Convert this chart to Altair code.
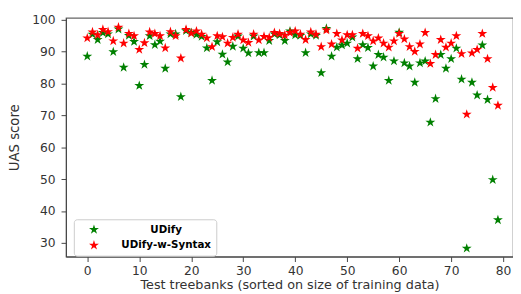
import altair as alt
import pandas as pd

idx = list(range(80))
udify = [88.5, 95.4, 93.7, 95.9, 95.5, 89.9, 97.0, 85.0, 95.0, 93.1,
         79.3, 85.9, 94.9, 92.1, 93.2, 84.7, 95.5, 95.5, 75.8, 96.5,
         95.9, 95.3, 94.7, 91.1, 80.9, 93.0, 89.1, 86.7, 91.6, 94.8,
         91.0, 89.5, 94.8, 89.6, 89.6, 93.4, 95.5, 95.2, 93.4, 96.4,
         95.2, 95.0, 89.6, 95.5, 95.0, 83.3, 97.2, 88.5, 91.3, 92.0,
         92.6, 94.5, 87.7, 92.1, 91.2, 85.4, 89.0, 88.2, 80.9, 87.0,
         96.0, 86.4, 85.4, 80.3, 86.4, 87.0, 67.8, 75.2, 89.0, 84.7,
         87.7, 91.0, 81.3, 28.3, 80.3, 76.3, 92.0, 74.9, 49.8, 37.2]
syntax = [94.2, 96.1, 95.2, 96.9, 96.2, 93.3, 97.6, 92.6, 95.6, 94.9,
          90.6, 92.7, 96.1, 95.6, 94.9, 91.1, 96.2, 94.9, 87.9, 96.9,
          95.7, 96.4, 95.4, 94.2, 91.5, 94.9, 94.6, 92.6, 94.4, 95.4,
          93.6, 92.8, 95.4, 93.6, 94.7, 94.4, 95.9, 95.6, 95.1, 95.9,
          96.4, 95.4, 93.7, 96.1, 95.4, 91.5, 96.7, 92.3, 95.6, 93.6,
          95.2, 95.2, 91.0, 95.6, 94.9, 93.3, 94.2, 92.6, 91.3, 93.3,
          95.6, 93.9, 91.5, 90.0, 92.3, 95.9, 86.2, 89.0, 93.7, 91.3,
          92.6, 94.9, 89.3, 70.3, 89.5, 90.6, 95.6, 87.7, 78.7, 73.1]
series_names = ["UDify", "UDify-w-Syntax"]
colors = ["#008000", "#ff0000"]
x_ticks = list(range(0, 81, 10))
y_ticks = list(range(30, 101, 10))

STAR = ("M0,-1L0.2245,-0.309L0.9511,-0.309L0.3633,0.118L0.5878,0.809"
        "L0,0.382L-0.5878,0.809L-0.3633,0.118L-0.9511,-0.309L-0.2245,-0.309Z")

df = pd.DataFrame({
    "idx": idx * 2,
    "score": udify + syntax,
    "series": [series_names[0]] * len(udify) + [series_names[1]] * len(syntax),
    "ord": [0] * len(udify) + [1] * len(syntax),
})

FONT = "DejaVu Sans"

chart = alt.Chart(df).mark_point(
    shape=STAR, filled=True, size=112, opacity=1, strokeWidth=0
).encode(
    x=alt.X("idx:Q",
            scale=alt.Scale(domain=[-4.1, 81.9], nice=False, zero=False),
            axis=alt.Axis(values=x_ticks, grid=False, labelPadding=3, titlePadding=2,
                          titleFontSize=13,
                          title="Test treebanks (sorted on size of training data)")),
    y=alt.Y("score:Q",
            scale=alt.Scale(domain=[25.7, 100.55], nice=False, zero=False),
            axis=alt.Axis(values=y_ticks, grid=False, title="UAS score",
                          labelPadding=6, titlePadding=10)),
    color=alt.Color("series:N",
                    scale=alt.Scale(domain=series_names, range=colors),
                    legend=alt.Legend(
                        title=None, orient="none", legendX=8, legendY=205,
                        direction="vertical",
                        fillColor="white", strokeColor="#cccccc", cornerRadius=3,
                        padding=5, symbolOffset=10, symbolType=STAR,
                        symbolSize=112, symbolStrokeWidth=0,
                        labelFont=FONT, labelFontWeight="bold", labelFontSize=10.5,
                        labelColor="black", labelAlign="center", labelOffset=68,
                        rowPadding=5)),
    order=alt.Order("ord:Q"),
).properties(
    width=455, height=243,
    padding={"left": 0, "top": 2.5, "right": 0, "bottom": 0},
).configure_view(
    stroke="#666666", strokeWidth=1.2
).configure_axis(
    domainColor="#444444", tickColor="#444444", tickSize=5,
    labelFont=FONT, labelFontSize=12.5, labelColor="#333333",
    titleFont=FONT, titleFontSize=13.5, titleColor="#333333",
    titleFontWeight="normal",
)

chart.save("out.html", embed_options={"renderer": "svg", "actions": False})
